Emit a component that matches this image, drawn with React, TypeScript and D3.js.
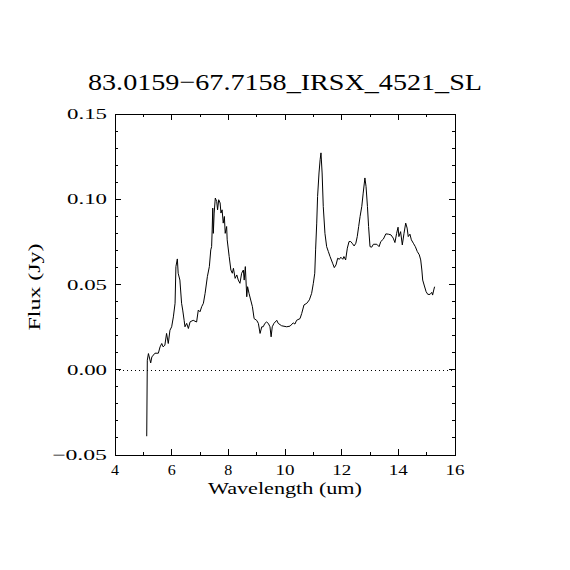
import React from "react";
import * as d3 from "d3";

const titleText = "83.0159\u221267.7158_IRSX_4521_SL";
const xLabel = "Wavelength (um)";
const yLabel = "Flux (Jy)";

const xMajorTicks = [4, 6, 8, 10, 12, 14, 16];
const xMinorTicks = [5, 7, 9, 11, 13, 15];
const yMajorTicks = [-0.05, 0, 0.05, 0.1, 0.15];
const yMinorTicks = [-0.04, -0.03, -0.02, -0.01, 0.01, 0.02, 0.03, 0.04, 0.06, 0.07, 0.08, 0.09, 0.11, 0.12, 0.13, 0.14];
const yTickLabels = ["\u22120.05", "0.00", "0.05", "0.10", "0.15"];

const wavelength = [
  5.12, 5.14, 5.18, 5.26, 5.30, 5.41, 5.53, 5.59, 5.65, 5.70, 5.76, 5.82, 5.88, 5.94, 6.00,
  6.06, 6.12, 6.15, 6.20, 6.23, 6.29, 6.35, 6.39, 6.44, 6.47, 6.53, 6.59, 6.65, 6.76, 6.88,
  6.94, 7.00, 7.06, 7.12, 7.18, 7.26, 7.33, 7.38, 7.41, 7.43, 7.45, 7.47, 7.50, 7.54, 7.59,
  7.62, 7.66, 7.71, 7.74, 7.78, 7.82, 7.86, 7.89, 7.94, 7.96, 8.03, 8.09, 8.14, 8.18, 8.24,
  8.30, 8.35, 8.41, 8.47, 8.53, 8.56, 8.60, 8.65, 8.68, 8.73, 8.79, 8.85, 8.91, 9.00, 9.06,
  9.12, 9.18, 9.23, 9.29, 9.35, 9.41, 9.47, 9.51, 9.55, 9.61, 9.71, 9.76, 9.88, 10.06, 10.18,
  10.29, 10.35, 10.41, 10.53, 10.59, 10.67, 10.77, 10.86, 10.94, 11.00, 11.05, 11.08, 11.12, 11.15, 11.20,
  11.24, 11.27, 11.31, 11.35, 11.41, 11.47, 11.53, 11.59, 11.68, 11.74, 11.80, 11.86, 11.92, 11.97, 12.04,
  12.08, 12.14, 12.20, 12.26, 12.32, 12.37, 12.44, 12.50, 12.55, 12.60, 12.65, 12.71, 12.76, 12.80, 12.82,
  12.86, 12.91, 12.95, 13.00, 13.06, 13.12, 13.24, 13.32, 13.38, 13.47, 13.56, 13.65, 13.74, 13.82, 13.88,
  13.94, 13.99, 14.02, 14.08, 14.14, 14.20, 14.26, 14.31, 14.35, 14.41, 14.46, 14.53, 14.60, 14.67, 14.74,
  14.79, 14.83, 14.86, 14.91, 14.98, 15.04, 15.12, 15.18, 15.21, 15.25, 15.28,
];

const flux = [
  -0.039, 0.0056, 0.0095, 0.004, 0.0075, 0.0097, 0.0097, 0.0134, 0.0154, 0.0134, 0.0144, 0.0213, 0.0154, 0.0232, 0.0252,
  0.031, 0.039, 0.0605, 0.065, 0.0566, 0.0526, 0.039, 0.035, 0.029, 0.0252, 0.0272, 0.0242, 0.0281, 0.029, 0.028,
  0.035, 0.034, 0.037, 0.039, 0.0448, 0.0546, 0.0605, 0.0703, 0.0722, 0.082, 0.0948, 0.080, 0.0919, 0.1007, 0.0987,
  0.0938, 0.0997, 0.0978, 0.0919, 0.0938, 0.086, 0.0899, 0.080, 0.084, 0.0762, 0.0664, 0.0585, 0.0566, 0.0595, 0.0536,
  0.0556, 0.0526, 0.0507, 0.0566, 0.0585, 0.0526, 0.0605, 0.0428, 0.0487, 0.0448, 0.0409, 0.037, 0.030, 0.029, 0.0272,
  0.0213, 0.0252, 0.0252, 0.0272, 0.028, 0.0272, 0.0252, 0.0193, 0.0252, 0.0272, 0.029, 0.0272, 0.0258, 0.0252, 0.0256,
  0.0275, 0.0268, 0.029, 0.030, 0.033, 0.038, 0.039, 0.041, 0.0448, 0.0507, 0.0566, 0.0703, 0.086, 0.1016, 0.1154,
  0.1232, 0.1272, 0.1154, 0.0958, 0.080, 0.0722, 0.0693, 0.0664, 0.0625, 0.0599, 0.0615, 0.0654, 0.0648, 0.066, 0.0648,
  0.0664, 0.0644, 0.0713, 0.0752, 0.0752, 0.0742, 0.0726, 0.0742, 0.0781, 0.084, 0.0899, 0.0958, 0.1036, 0.1095, 0.1125,
  0.1075, 0.0958, 0.084, 0.0722, 0.0719, 0.0736, 0.0736, 0.0722, 0.0752, 0.0766, 0.0797, 0.0795, 0.0791, 0.0772, 0.0746,
  0.080, 0.0836, 0.0781, 0.081, 0.0732, 0.080, 0.086, 0.0831, 0.0781, 0.0795, 0.0762, 0.0742, 0.0722, 0.0693, 0.0674,
  0.0644, 0.0585, 0.0526, 0.0497, 0.0458, 0.0442, 0.0442, 0.0454, 0.0438, 0.0468, 0.0487,
];

const W = 570;
const H = 570;
const left = 115;
const right = 455;
const top = 114;
const bottom = 455;
const FONT = "'Liberation Serif', 'DejaVu Serif', serif";

export default function App() {
  const x = d3.scaleLinear().domain([4, 16]).range([left, right]);
  const y = d3.scaleLinear().domain([-0.05, 0.15]).range([bottom, top]);
  const points = wavelength.map((w, i) => [w, flux[i]] as [number, number]);
  const line = d3
    .line<[number, number]>()
    .x((d) => x(d[0]))
    .y((d) => y(d[1]));

  const major = 6;
  const minor = 3;

  return (
    <div style={{ position: "absolute", left: 0, top: 0 }}>
      <svg width={W} height={H} style={{ display: "block", background: "#fff" }}>
        <rect x={0} y={0} width={W} height={H} fill="#fff" />
        <text
          x={88}
          y={90}
          fontFamily={FONT}
          fontSize={24}
          textLength={394}
          lengthAdjust="spacingAndGlyphs"
          fill="#000"
        >
          {titleText}
        </text>

        {/* frame */}
        <rect x={left} y={top} width={right - left} height={bottom - top} fill="none" stroke="#000" strokeWidth={1} shapeRendering="crispEdges" />

        {/* x ticks */}
        <g stroke="#000" strokeWidth={1} shapeRendering="crispEdges">
          {xMajorTicks.map((t) => (
            <g key={"xM" + t}>
              <line x1={x(t)} x2={x(t)} y1={bottom} y2={bottom - major} />
              <line x1={x(t)} x2={x(t)} y1={top} y2={top + major} />
            </g>
          ))}
          {xMinorTicks.map((t) => (
            <g key={"xm" + t}>
              <line x1={x(t)} x2={x(t)} y1={bottom} y2={bottom - minor} />
              <line x1={x(t)} x2={x(t)} y1={top} y2={top + minor} />
            </g>
          ))}
          {yMajorTicks.map((t) => (
            <g key={"yM" + t}>
              <line x1={left} x2={left + major} y1={y(t)} y2={y(t)} />
              <line x1={right} x2={right - major} y1={y(t)} y2={y(t)} />
            </g>
          ))}
          {yMinorTicks.map((t) => (
            <g key={"ym" + t}>
              <line x1={left} x2={left + minor} y1={y(t)} y2={y(t)} />
              <line x1={right} x2={right - minor} y1={y(t)} y2={y(t)} />
            </g>
          ))}
        </g>

        {/* x tick labels */}
        {xMajorTicks.map((t) => (
          <text
            key={"xl" + t}
            x={x(t)}
            y={475}
            textAnchor="middle"
            fontFamily={FONT}
            fontSize={15}
            fill="#000"
            textLength={t >= 10 ? 19 : 8}
            lengthAdjust="spacingAndGlyphs"
          >
            {String(t)}
          </text>
        ))}

        {/* y tick labels */}
        {yMajorTicks.map((t, i) => (
          <text
            key={"yl" + t}
            x={107}
            y={y(t) + 5}
            textAnchor="end"
            fontFamily={FONT}
            fontSize={15}
            fill="#000"
            textLength={yTickLabels[i].length === 5 ? 55 : 40}
            lengthAdjust="spacingAndGlyphs"
          >
            {yTickLabels[i]}
          </text>
        ))}

        {/* zero line */}
        <line
          x1={left}
          x2={right}
          y1={Math.round(y(0)) + 0.5}
          y2={Math.round(y(0)) + 0.5}
          stroke="#000"
          strokeWidth={1}
          strokeDasharray="1 3"
        />

        {/* spectrum */}
        <path d={line(points) || ""} fill="none" stroke="#000" strokeWidth={1} />

        <text
          x={285}
          y={494}
          textAnchor="middle"
          fontFamily={FONT}
          fontSize={16}
          fill="#000"
          textLength={154}
          lengthAdjust="spacingAndGlyphs"
        >
          {xLabel}
        </text>
        <text
          transform="translate(40,287) rotate(-90)"
          textAnchor="middle"
          fontFamily={FONT}
          fontSize={16}
          fill="#000"
          textLength={87}
          lengthAdjust="spacingAndGlyphs"
        >
          {yLabel}
        </text>
      </svg>
    </div>
  );
}
